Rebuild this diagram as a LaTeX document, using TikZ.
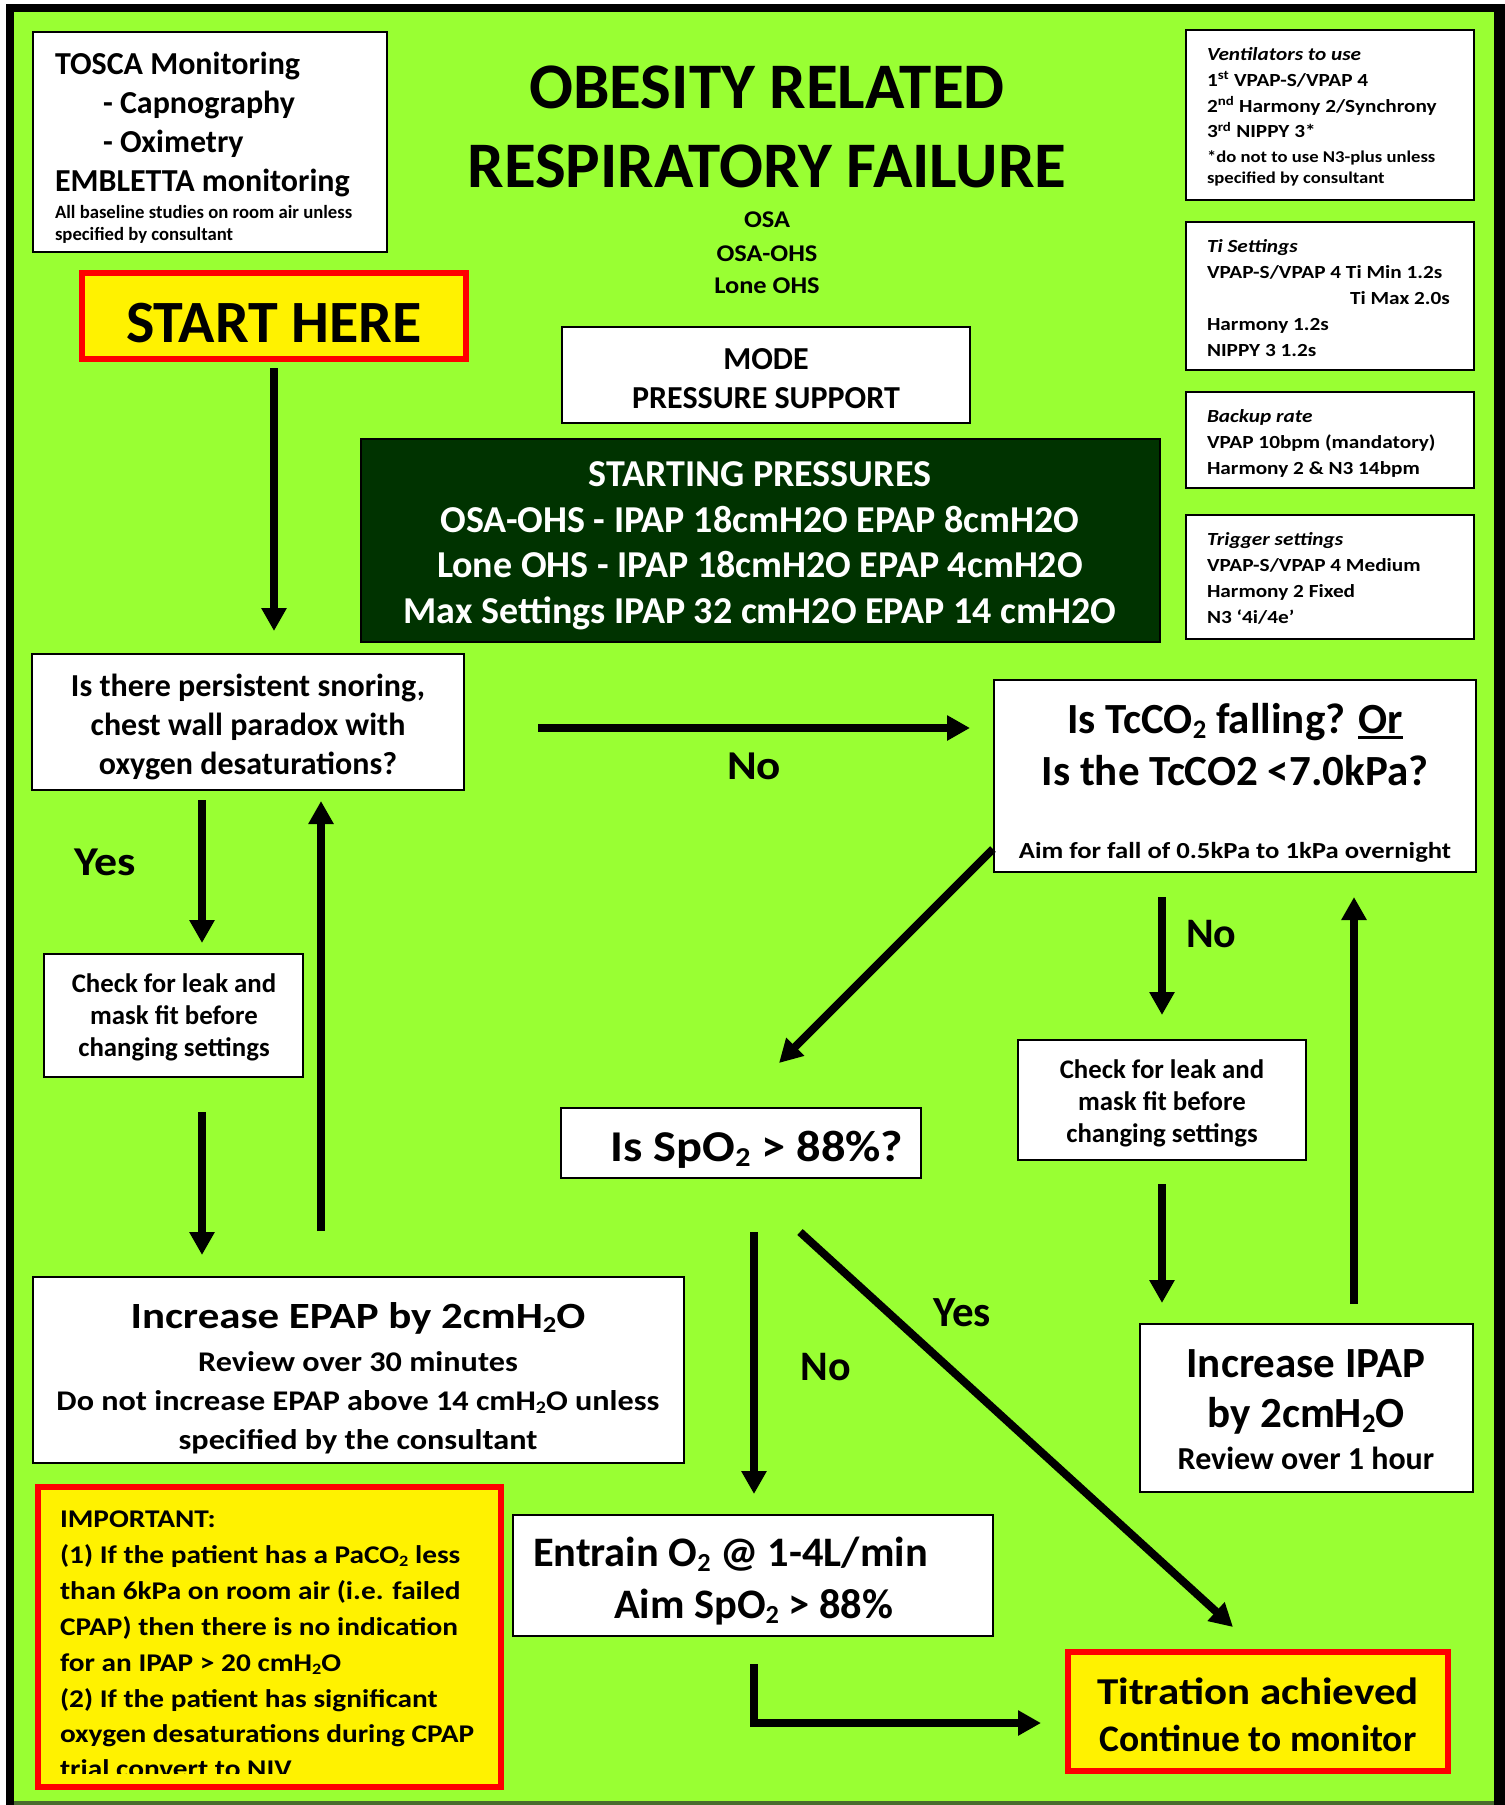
\documentclass[tikz,border=0pt]{standalone}
\usepackage{fontspec}
\usepackage{graphicx}
\setmainfont{Carlito}
\usetikzlibrary{arrows.meta,fit}
\definecolor{lime}{HTML}{99FF33}
\definecolor{deepgreen}{HTML}{003300}
\definecolor{edgeolive}{HTML}{4A6B2F}
\newcommand\fz[1]{\fontsize{#1pt}{#1pt}\selectfont\bfseries}
\newcommand\lo[1]{\raisebox{-0.13em}{\scalebox{0.62}{#1}}}
\newcommand\hs[2]{\scalebox{#1}[1]{#2}}
\newcommand\thickul[1]{\leavevmode\vtop{\hbox{#1}\kern2.5pt\hrule height 3pt}}
\tikzset{
  box/.style={draw=black, line width=2pt, fill=white, inner sep=0pt, outer sep=0pt},
  darkbox/.style={draw=black, line width=1.5pt, fill=deepgreen, inner sep=0pt, outer sep=0pt},
  alertbox/.style={draw=red, line width=6pt, fill=yellow, inner sep=0pt, outer sep=0pt},
  txt/.style={anchor=base, inner sep=0pt, outer sep=0pt},
  ltxt/.style={anchor=base west, inner sep=0pt, outer sep=0pt},
  flow/.style={line width=8pt, -{Triangle[length=23pt,width=24pt]}},
}
\begin{document}
\begin{tikzpicture}[x=1pt,y=-1pt]
\useasboundingbox (0,0) rectangle (1505,1805);
% page frame
\fill[white] (0,0) rectangle (1505,1805);
\fill[black] (6,4) rectangle (1505,1805);
\fill[lime] (14,12) rectangle (1494,1801);
\fill[edgeolive] (14,1801) rectangle (1494,1805);

% ---------- boxes ----------
\node[box, fit={(33,32) (387,252)}] (tosca) {};
\node[alertbox, fit={(82,273) (466,359)}] (start) {};
\node[box, fit={(562,327) (970,423)}] (mode) {};
\node[darkbox, fit={(361,439) (1160,642)}] (press) {};
\node[box, fit={(1186,30) (1474,200)}] (vent) {};
\node[box, fit={(1186,222) (1474,370)}] (ti) {};
\node[box, fit={(1186,392) (1474,488)}] (backup) {};
\node[box, fit={(1186,515) (1474,639)}] (trig) {};
\node[box, fit={(32,654) (464,790)}] (snore) {};
\node[box, fit={(44,954) (303,1077)}] (checkL) {};
\node[box, fit={(994,680) (1476,872)}] (tcco) {};
\node[box, fit={(561,1108) (921,1178)}] (spo) {};
\node[box, fit={(1018,1040) (1306,1160)}] (checkR) {};
\node[box, fit={(33,1277) (684,1463)}] (epap) {};
\node[box, fit={(1140,1324) (1473,1492)}] (ipap) {};
\node[alertbox, fit={(38,1487) (501,1787)}] (important) {};
\node[box, fit={(513,1515) (993,1636)}] (entrain) {};
\node[alertbox, fit={(1068,1652) (1448,1771)}] (titration) {};

% ---------- monitoring box ----------
\node[ltxt, font=\fz{32}] (t1) at (55,74) {TOSCA Monitoring};
\node[ltxt, font=\fz{32}] (t2) at (103,113) {- Capnography};
\node[ltxt, font=\fz{32}] (t3) at (103,152) {- Oximetry};
\node[ltxt, font=\fz{32}] (t4) at (55,191) {EMBLETTA monitoring};
\node[ltxt, font=\fz{18.7}] (t5) at (55,218) {All baseline studies on room air unless};
\node[ltxt, font=\fz{18.7}] (t6) at (55,240) {specified by consultant};

% ---------- start ----------
\node[txt, font=\fz{60}] (st) at (274,342) {START HERE};

% ---------- title ----------
\node[txt, font=\fz{65}] (ti1) at (767,108) {OBESITY RELATED};
\node[txt, font=\fz{65}] (ti2) at (767,187) {RESPIRATORY FAILURE};
\node[txt, font=\fz{24}] (o1) at (767,227) {\hs{1.1}{OSA}};
\node[txt, font=\fz{24}] (o2) at (767,261) {\hs{1.1}{OSA-OHS}};
\node[txt, font=\fz{24}] (o3) at (767,293) {\hs{1.1}{Lone OHS}};
\node[txt, font=\fz{32}] (m1) at (766,369) {MODE};
\node[txt, font=\fz{32}] (m2) at (766,408) {PRESSURE SUPPORT};

% ---------- starting pressures ----------
\node[txt, font=\fz{38}, text=white] (p1) at (760,486) {STARTING PRESSURES};
\node[txt, font=\fz{38}, text=white] (p2) at (760,532) {OSA-OHS - IPAP 18cmH2O EPAP 8cmH2O};
\node[txt, font=\fz{38}, text=white] (p3) at (760,577) {Lone OHS - IPAP 18cmH2O EPAP 4cmH2O};
\node[txt, font=\fz{38}, text=white] (p4) at (760,623) {Max Settings IPAP 32 cmH2O EPAP 14 cmH2O};

% ---------- right-hand settings ----------
\tikzset{rs/.style={ltxt, font=\fz{18.5}}, rsi/.style={ltxt, font=\fz{18.5}\itshape}, rss/.style={ltxt, font=\fz{16.5}}}
\node[rsi] (v1) at (1207,60) {\hs{1.15}{Ventilators to use}};
\node[rs] (v2) at (1207,86) {\hs{1.15}{1\textsuperscript{st} VPAP-S/VPAP 4}};
\node[rs] (v3) at (1207,112) {\hs{1.15}{2\textsuperscript{nd} Harmony 2/Synchrony}};
\node[rs] (v4) at (1207,137.5) {\hs{1.15}{3\textsuperscript{rd} NIPPY 3*}};
\node[rss] (v5) at (1207,162) {\hs{1.13}{*do not to use N3-plus unless}};
\node[rss] (v6) at (1207,183.5) {\hs{1.13}{specified by consultant}};

\node[rsi] (s1) at (1207,252) {\hs{1.15}{Ti Settings}};
\node[rs] (s2) at (1207,278) {\hs{1.15}{VPAP-S/VPAP 4 Ti Min 1.2s}};
\node[anchor=base east, inner sep=0pt, font=\fz{18.5}] (s3) at (1450,304) {\hs{1.15}{Ti Max 2.0s}};
\node[rs] (s4) at (1207,330) {\hs{1.15}{Harmony 1.2s}};
\node[rs] (s5) at (1207,356) {\hs{1.15}{NIPPY 3 1.2s}};

\node[rsi] (b1) at (1207,422) {\hs{1.15}{Backup rate}};
\node[rs] (b2) at (1207,448) {\hs{1.15}{VPAP 10bpm (mandatory)}};
\node[rs] (b3) at (1207,474) {\hs{1.15}{Harmony 2 \& N3 14bpm}};

\node[rsi] (g1) at (1207,545) {\hs{1.15}{Trigger settings}};
\node[rs] (g2) at (1207,571) {\hs{1.15}{VPAP-S/VPAP 4 Medium}};
\node[rs] (g3) at (1207,597.5) {\hs{1.15}{Harmony 2 Fixed}};
\node[rs] (g4) at (1207,623.5) {\hs{1.15}{N3 ‘4i/4e’}};

% ---------- left branch ----------
\node[txt, font=\fz{32}] (n1) at (248,696) {Is there persistent snoring,};
\node[txt, font=\fz{32}] (n2) at (248,735) {chest wall paradox with};
\node[txt, font=\fz{32}] (n3) at (248,774) {oxygen desaturations?};
\node[ltxt, font=\fz{41}] (yesL) at (74,875) {\hs{1.12}{Yes}};
\node[txt, font=\fz{26.8}] (c1) at (174,992) {Check for leak and};
\node[txt, font=\fz{26.8}] (c2) at (174,1024) {mask fit before};
\node[txt, font=\fz{26.8}] (c3) at (174,1056) {changing settings};
\node[txt, font=\fz{37}] (e1) at (358,1328) {\hs{1.16}{Increase EPAP by 2cmH\lo{2}O}};
\node[txt, font=\fz{28.5}] (e2) at (358,1371) {\hs{1.13}{Review over 30 minutes}};
\node[txt, font=\fz{28.5}] (e3) at (358,1410) {\hs{1.13}{Do not increase EPAP above 14 cmH\lo{2}O unless}};
\node[txt, font=\fz{28.5}] (e4) at (358,1449) {\hs{1.13}{specified by the consultant}};

% ---------- important notes (text clipped by the box) ----------
\begin{scope}
\clip (38,1487) rectangle (501,1773);
\tikzset{imp/.style={ltxt, font=\fz{25.5}}}
\node[imp] (i1) at (60,1527) {\hs{1.15}{IMPORTANT:}};
\node[imp] (i2) at (60,1563) {\hs{1.15}{(1) If the patient has a PaCO\lo{2} less}};
\node[imp] (i3) at (60,1599) {\hs{1.15}{than 6kPa on room air (i.e. failed}};
\node[imp] (i4) at (60,1635) {\hs{1.15}{CPAP) then there is no indication}};
\node[imp] (i5) at (60,1671) {\hs{1.15}{for an IPAP > 20 cmH\lo{2}O}};
\node[imp] (i6) at (60,1707) {\hs{1.15}{(2) If the patient has significant}};
\node[imp] (i7) at (60,1742) {\hs{1.15}{oxygen desaturations during CPAP}};
\node[imp] (i8) at (60,1777) {\hs{1.15}{trial convert to NIV}};
\end{scope}

% ---------- right branch ----------
\node[txt, font=\fz{41}] (noTop) at (754,779) {\hs{1.1}{No}};
\node[txt, font=\fz{43}] (q1) at (1235,733) {Is TcCO\lo{2} falling? \thickul{Or}};
\node[txt, font=\fz{43}] (q2) at (1235,785) {Is the TcCO2 <7.0kPa?};
\node[txt, font=\fz{23}] (q3) at (1235,858) {\hs{1.16}{Aim for fall of 0.5kPa to 1kPa overnight}};
\node[ltxt, font=\fz{42}] (noR) at (1186,947) {No};
\node[txt, font=\fz{26.8}] (r1) at (1162,1078) {Check for leak and};
\node[txt, font=\fz{26.8}] (r2) at (1162,1110) {mask fit before};
\node[txt, font=\fz{26.8}] (r3) at (1162,1142) {changing settings};
\node[txt, font=\fz{43}] (ip1) at (1306,1377) {Increase IPAP};
\node[txt, font=\fz{43}] (ip2) at (1306,1427) {by 2cmH\lo{2}O};
\node[txt, font=\fz{32}] (ip3) at (1306,1469) {Review over 1 hour};

% ---------- oxygen branch ----------
\node[txt, font=\fz{44}] (sp) at (757,1161) {\hs{1.1}{Is SpO\lo{2} > 88\%?}};
\node[txt, font=\fz{42}] (noM) at (826,1380) {No};
\node[txt, font=\fz{43}] (yesM) at (962,1326) {Yes};
\node[ltxt, font=\fz{42}] (en1) at (533,1566) {\hs{1.01}{Entrain O\lo{2} @ 1-4L/min}};
\node[ltxt, font=\fz{42}] (en2) at (614,1618) {\hs{1.01}{Aim SpO\lo{2} > 88\%}};
\node[txt, font=\fz{38}] (ta1) at (1258,1704) {\hs{1.13}{Titration achieved}};
\node[txt, font=\fz{37.5}] (ta2) at (1258,1751) {Continue to monitor};

% ---------- connector end points ----------
\coordinate (a1s) at (274,368);  \coordinate (a1e) at (274,631);
\coordinate (a2s) at (202,800);  \coordinate (a2e) at (202,943);
\coordinate (a3s) at (321,1231); \coordinate (a3e) at (321,801);
\coordinate (a4s) at (202,1112); \coordinate (a4e) at (202,1255);
\coordinate (a5s) at (538,728);  \coordinate (a5e) at (970,728);
\coordinate (a6s) at (993,849);  \coordinate (a6e) at (779,1063);
\coordinate (a7s) at (1162,897); \coordinate (a7e) at (1162,1015);
\coordinate (a8s) at (1162,1184);\coordinate (a8e) at (1162,1303);
\coordinate (a9s) at (1354,1304);\coordinate (a9e) at (1354,897);
\coordinate (b1s) at (754,1232); \coordinate (b1e) at (754,1494);
\coordinate (b2s) at (800,1232); \coordinate (b2e) at (1233,1627);
\coordinate (b3s) at (754,1664); \coordinate (b3c) at (754,1723); \coordinate (b3e) at (1041,1723);

% ---------- connectors ----------
\draw[flow] (a1s) -- (a1e);
\draw[flow] (a2s) -- (a2e);
\draw[flow] (a3s) -- (a3e);
\draw[flow] (a4s) -- (a4e);
\draw[flow] (a5s) -- (a5e);
\draw[flow] (a6s) -- (a6e);
\draw[flow] (a7s) -- (a7e);
\draw[flow] (a8s) -- (a8e);
\draw[flow] (a9s) -- (a9e);
\draw[flow] (b1s) -- (b1e);
\draw[flow] (b2s) -- (b2e);
\draw[flow] (b3s) -- (b3c) -- (b3e);
\end{tikzpicture}
\end{document}
